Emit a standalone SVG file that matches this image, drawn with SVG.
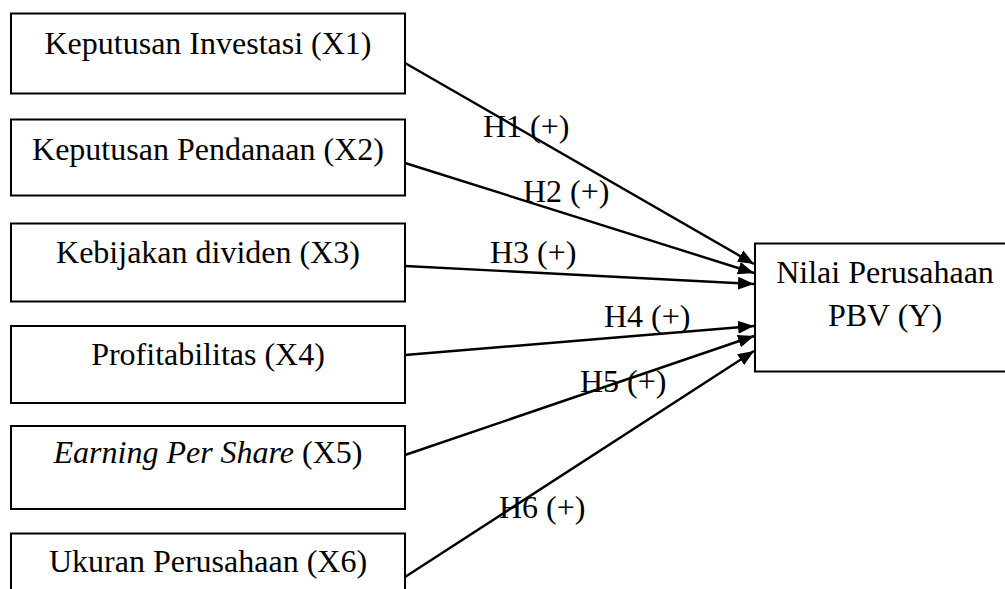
<svg xmlns="http://www.w3.org/2000/svg" width="1005" height="589" viewBox="0 0 1005 589">
<style>
.box{fill:#fff;stroke:#000;stroke-width:2}
.t{font-family:"Liberation Serif","Times New Roman",serif;font-size:32px;fill:#000}
.c{text-anchor:middle}
.edge{stroke:#000;stroke-width:2.4;fill:none;marker-end:url(#ah)}
</style>
<defs>
<marker id="ah" markerUnits="userSpaceOnUse" markerWidth="18" markerHeight="14" refX="16" refY="7" orient="auto">
<path d="M0,0.5 L16,7 L0,13.5 z" fill="#000"/>
</marker>
</defs>
<g id="x1"><rect class="box" x="11" y="13.5" width="394" height="80"/><text class="t c" x="208" y="54">Keputusan Investasi (X1)</text></g>
<g id="x2"><rect class="box" x="11" y="119.5" width="394" height="76"/><text class="t c" x="208" y="160">Keputusan Pendanaan (X2)</text></g>
<g id="x3"><rect class="box" x="11" y="223.5" width="394" height="78"/><text class="t c" x="208" y="263">Kebijakan dividen (X3)</text></g>
<g id="x4"><rect class="box" x="11" y="326" width="394" height="77"/><text class="t c" x="208" y="365">Profitabilitas (X4)</text></g>
<g id="x5"><rect class="box" x="11" y="426" width="394" height="83"/><text class="t c" x="208" y="463"><tspan font-style="italic">Earning Per Share</tspan> (X5)</text></g>
<g id="x6"><rect class="box" x="11" y="533.5" width="394" height="70"/><text class="t c" x="208" y="572">Ukuran Perusahaan (X6)</text></g>
<g id="y"><rect class="box" x="755" y="243.5" width="260" height="128"/><text class="t c" x="885" y="283">Nilai Perusahaan</text><text class="t c" x="885" y="326">PBV (Y)</text></g>
<g id="connectors">
<line class="edge" x1="405" y1="63" x2="754" y2="264"/>
<line class="edge" x1="405" y1="163" x2="754" y2="273"/>
<line class="edge" x1="405" y1="266" x2="754" y2="284"/>
<line class="edge" x1="405" y1="355" x2="754" y2="326"/>
<line class="edge" x1="405" y1="455" x2="754" y2="336"/>
<line class="edge" x1="405" y1="577" x2="754" y2="351"/>
</g>
<g id="labels">
<text class="t" x="483" y="137">H1 (+)</text>
<text class="t" x="523" y="202">H2 (+)</text>
<text class="t" x="490" y="263">H3 (+)</text>
<text class="t" x="604" y="327">H4 (+)</text>
<text class="t" x="580" y="392">H5 (+)</text>
<text class="t" x="499" y="518">H6 (+)</text>
</g>
</svg>
